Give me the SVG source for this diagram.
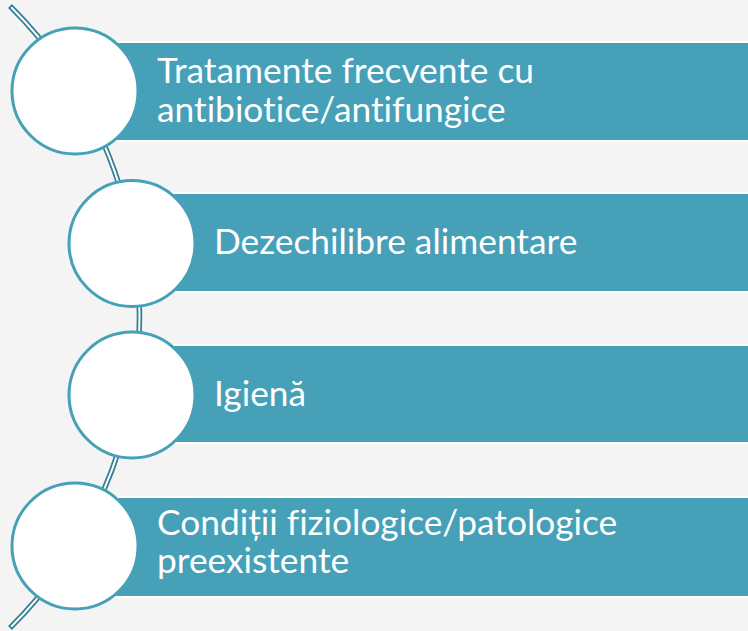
<svg xmlns="http://www.w3.org/2000/svg" width="748" height="631" viewBox="0 0 748 631">
<style>
.bar{fill:#45a0b8;stroke:#ffffff;stroke-width:2}
.node{fill:#ffffff;stroke:#45a0b8;stroke-width:3}
.lbl{fill:#ffffff;font-family:Lato,"Open Sans",sans-serif;font-size:35.3px;font-variant-ligatures:none}
.conn-o{fill:none;stroke:#2e7f93;stroke-width:5.5}
.conn-i{fill:none;stroke:#ffffff;stroke-width:2}
</style>
<rect x="0" y="0" width="748" height="631" fill="#f4f4f4"/>
<g id="connectors">
<path class="conn-o" d="M 10 6 A 438.2 438.2 0 0 1 10 628"/>
<path class="conn-i" d="M 11.2 7.2 A 438.2 438.2 0 0 1 11.2 626.8"/>
</g>
<g id="node1">
<rect class="bar" x="75" y="42" width="700" height="99"/>
<circle class="node" cx="75" cy="91" r="63"/>
<text class="lbl" x="157" y="83">Tratamente frecvente cu</text>
<text class="lbl" x="157" y="122">antibiotice/antifungice</text>
</g>
<g id="node2">
<rect class="bar" x="132" y="193" width="700" height="99"/>
<circle class="node" cx="132" cy="243.5" r="63"/>
<text class="lbl" x="214" y="254">Dezechilibre alimentare</text>
</g>
<g id="node3">
<rect class="bar" x="132" y="345" width="700" height="98"/>
<circle class="node" cx="132" cy="395" r="63"/>
<text class="lbl" x="214" y="406">Igienă</text>
</g>
<g id="node4">
<rect class="bar" x="75" y="497" width="700" height="100"/>
<circle class="node" cx="75" cy="546" r="63"/>
<text class="lbl" x="157" y="535">Condiții fiziologice/patologice</text>
<text class="lbl" x="157" y="573">preexistente</text>
</g>
</svg>
